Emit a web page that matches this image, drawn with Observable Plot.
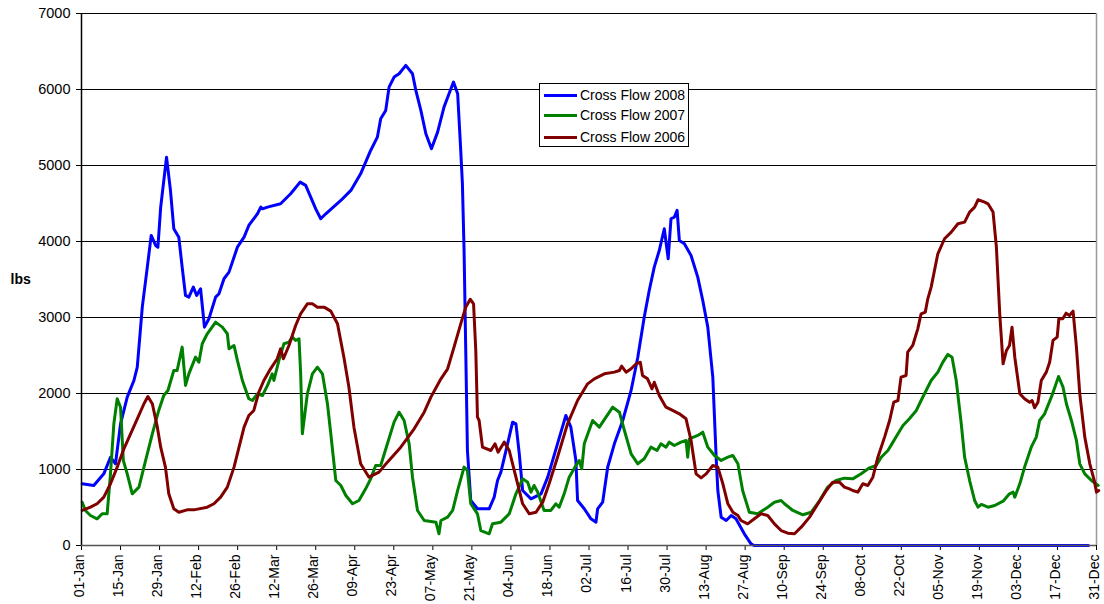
<!DOCTYPE html>
<html>
<head>
<meta charset="utf-8">
<script src="https://cdn.jsdelivr.net/npm/d3@7"></script>
<script src="https://cdn.jsdelivr.net/npm/@observablehq/plot@0.6"></script>
<style>
  html, body { margin: 0; padding: 0; background: #fff; }
  #wrap { position: relative; width: 1104px; height: 604px; font-family: "Liberation Sans", Arial, sans-serif; }
  #wrap svg { overflow: visible; }
  #legend { position: absolute; left: 539px; top: 83px; width: 148px; height: 62px; border: 1px solid #000; background: #fff; box-sizing: content-box; }
  .row { position: absolute; left: 4px; height: 20px; display: flex; align-items: center; font-size: 14px; color: #000; white-space: nowrap; }
  .sw { width: 33px; height: 3px; margin-right: 3px; }
</style>
</head>
<body>
<div id="wrap"><div id="legend"></div></div>
<script>
// Series names and colours
const seriesNames = ["Cross Flow 2008", "Cross Flow 2007", "Cross Flow 2006"];
const seriesColors = ["#0000ff", "#008000", "#800000"];

// Day of year (0 = 01-Jan) and values
const days2008 = [0.25,4.4,8.0,10.4,12.2,14.0,16.4,18.8,20.0,21.8,23.6,25.0,26.6,27.4,28.4,30.5,31.9,33.1,34.9,36.1,37.3,38.5,40.1,41.3,42.7,44.1,45.7,48.1,49.3,51.1,52.9,55.9,58.3,60.0,63.1,64.3,64.9,66.7,71.4,75.0,78.4,80.4,82.2,84.0,85.8,87.6,93.0,96.6,100.1,103.7,106.1,107.3,109.1,110.3,112.1,113.9,116.3,118.7,119.9,121.7,123.5,125.5,127.7,130.0,131.8,133.4,134.9,136.0,136.6,137.2,137.8,138.4,139.6,142.0,146.2,148.0,149.2,150.4,152.8,154.6,155.8,157.0,158.2,161.2,164.8,167.2,170.7,173.7,175.5,177.3,177.9,180.3,182.7,184.5,185.1,186.9,188.7,191.1,194.1,197.1,199.5,201.8,203.6,205.4,207.2,209.0,210.4,211.4,212.6,213.6,214.4,216.2,218.6,221.0,222.8,224.6,226.4,227.6,228.2,229.4,231.2,233.0,234.7,237.7,240.1,241.2,361.1];
const flow2008 = [812,790,943,1162,1075,1601,1952,2171,2346,3136,3662,4080,3948,3925,4452,5110,4672,4168,4057,3662,3290,3268,3400,3290,3378,2873,2983,3268,3312,3510,3597,3925,4057,4211,4365,4452,4430,4452,4496,4628,4781,4738,4584,4430,4299,4365,4540,4672,4891,5198,5373,5615,5725,6031,6163,6207,6317,6207,5988,5725,5418,5220,5439,5768,5944,6097,5944,5198,4760,3882,2566,1250,592,483,483,636,855,965,1338,1623,1601,1206,724,614,680,899,1338,1711,1557,1119,592,483,351,307,483,570,1030,1338,1645,2040,2478,3004,3356,3663,3882,4168,3773,4299,4321,4409,4014,3970,3816,3531,3224,2873,2215,1162,724,372,329,395,351,154,22,0,0];

const days2007 = [0.25,1.4,3.2,5.6,7.4,9.2,10.4,11.6,12.8,14.0,15.0,16.4,18.2,20.6,23.0,25.4,27.7,29.5,31.0,33.1,34.3,36.1,37.3,38.5,40.9,42.1,43.3,45.1,48.1,50.5,52.3,52.9,54.7,55.9,57.7,60.0,61.3,63.1,64.9,66.7,68.4,69.0,70.8,72.6,74.4,75.6,76.8,78.0,78.6,79.2,81.0,82.8,84.6,86.4,88.2,89.4,91.2,93.0,94.8,97.2,99.5,101.9,103.7,105.5,107.3,109.7,112.1,113.9,115.7,117.5,118.7,120.5,122.9,127.1,128.2,128.9,131.3,133.1,134.9,137.2,138.4,139.6,142.0,143.2,146.2,147.4,150.4,153.4,155.8,158.2,160.0,161.2,162.3,163.6,165.9,168.3,170.1,171.3,173.1,174.9,177.3,178.5,179.4,180.3,183.3,185.7,188.1,190.5,192.9,194.7,197.1,199.5,201.8,204.2,206.4,207.8,209.6,210.8,212.6,215.0,216.8,217.4,218.0,221.0,222.8,224.6,227.0,229.4,231.8,233.6,235.4,237.1,239.5,242.5,246.1,248.5,250.9,252.1,255.1,258.7,261.7,264.7,267.6,270.6,273.6,276.6,279.6,282.6,285.0,286.8,289.2,291.0,292.8,294.6,296.9,299.4,301.1,302.9,304.7,307.1,308.9,310.7,312.2,313.7,315.5,316.7,318.5,320.3,321.5,322.7,325.1,327.5,330.5,332.8,334.1,334.7,336.5,338.2,340.6,342.4,343.6,345.4,347.8,350.4,352.0,353.2,355.0,356.8,358.0,359.8,362.2,364.6];
const flow2007 = [570,461,395,351,417,417,943,1601,1931,1820,1119,943,680,768,1119,1470,1777,1974,2040,2303,2303,2610,2106,2259,2478,2412,2654,2786,2939,2873,2786,2588,2632,2435,2171,1931,1908,1996,1974,2106,2259,2171,2435,2654,2676,2742,2698,2720,2259,1470,1996,2259,2347,2259,1865,1470,855,790,658,549,592,746,877,1053,1053,1338,1623,1754,1645,1338,899,461,329,307,154,329,373,461,724,1031,987,549,417,197,154,285,307,417,680,877,833,702,790,702,461,461,549,504,680,899,1053,1119,1009,1338,1645,1557,1689,1820,1754,1513,1206,1075,1141,1294,1250,1338,1294,1360,1316,1360,1382,1162,1404,1448,1491,1294,1184,1119,1162,1184,1075,724,438,417,504,570,592,549,461,404,438,592,768,855,886,877,943,1022,1053,1162,1250,1360,1470,1579,1667,1777,1908,2040,2171,2281,2412,2514,2478,2171,1601,1162,855,592,504,540,504,526,583,680,702,636,812,1031,1294,1426,1645,1733,1952,2224,2083,1865,1645,1382,1075,943,855,790];

const days2006 = [0.25,3.2,5.6,8.0,10.4,12.8,15.2,17.6,20.0,22.4,23.8,25.4,27.2,28.4,30.1,31.3,33.1,34.9,37.9,40.3,45.1,47.5,49.9,52.3,54.7,56.5,58.3,60.0,61.8,63.6,65.4,67.8,70.2,71.4,72.4,74.4,76.8,78.6,81.0,82.8,84.6,87.0,89.4,91.8,94.1,95.9,97.7,100.1,103.1,106.7,109.7,114.5,119.3,122.9,125.3,128.9,131.3,133.6,136.0,137.8,139.4,140.6,141.4,142.0,142.6,143.8,146.8,148.3,149.4,151.6,153.4,155.8,158.2,160.6,163.0,165.4,167.7,170.7,174.3,177.9,181.5,183.9,187.5,191.1,192.9,193.7,195.3,197.1,198.9,200.4,201.2,203.0,204.6,205.4,207.2,209.6,212.0,214.4,216.8,218.6,220.4,222.2,224.0,226.4,228.2,230.0,231.8,233.6,235.4,236.5,238.9,241.3,243.7,246.1,248.5,250.9,253.3,255.7,258.1,261.1,264.1,267.1,269.4,271.8,273.6,275.4,276.6,278.4,280.2,282.0,283.8,285.6,288.0,289.8,291.3,292.8,293.9,295.7,296.3,298.1,299.9,301.1,302.6,303.5,304.7,307.1,309.5,311.9,314.3,316.7,318.5,320.3,321.5,323.9,325.1,326.9,328.1,329.3,330.5,331.7,332.8,333.7,334.7,336.5,338.2,340.0,340.9,341.8,343.0,344.2,346.0,347.2,348.4,349.9,350.5,351.9,353.1,354.3,355.6,356.8,358.0,359.8,361.6,363.2,364.0,364.8];
const flow2006 = [461,504,549,636,812,1031,1272,1470,1667,1865,1961,1865,1557,1294,1031,680,483,438,469,469,504,549,636,768,1031,1294,1557,1711,1777,2018,2171,2325,2457,2588,2457,2632,2895,3049,3180,3180,3136,3136,3084,2917,2478,2083,1557,1075,899,965,1097,1294,1535,1754,1952,2193,2325,2610,2917,3136,3240,3180,2566,1689,1645,1294,1250,1338,1228,1360,1250,899,549,417,438,570,812,1162,1601,1908,2127,2193,2259,2281,2303,2360,2281,2325,2391,2412,2237,2193,2062,2149,1974,1820,1777,1733,1667,1382,943,890,943,1053,1031,812,549,438,395,329,285,351,417,395,285,197,162,154,241,373,549,724,833,833,768,746,724,702,812,790,899,1162,1426,1645,1886,1908,2215,2237,2544,2632,2851,3049,3071,3246,3400,3838,4036,4123,4233,4255,4387,4452,4549,4518,4496,4387,3925,3049,2391,2566,2632,2873,2478,1996,1931,1886,1908,1812,1886,2171,2281,2412,2698,2742,2983,2983,3057,3027,3084,2610,1996,1426,1075,855,702,724];

// Axis ticks
const xTicks = d3.range(0, 365, 14);
const yTicks = d3.range(0, 7001, 1000);
const fmtDay = d => d3.utcFormat("%d-%b")(new Date(Date.UTC(2007, 0, 1 + d)));

const rows = [
  ...days2008.map((d, i) => ({series: seriesNames[0], day: d, value: flow2008[i]})),
  ...days2007.map((d, i) => ({series: seriesNames[1], day: d, value: flow2007[i]})),
  ...days2006.map((d, i) => ({series: seriesNames[2], day: d, value: flow2006[i]}))
];

const chart = Plot.plot({
  width: 1104,
  height: 604,
  marginLeft: 81,
  marginRight: 8,
  marginTop: 13,
  marginBottom: 59,
  style: {fontFamily: "'Liberation Sans', Arial, sans-serif", fontSize: "14px", color: "#000", background: "#fff", overflow: "visible"},
  x: {type: "linear", domain: [0, 364]},
  y: {domain: [0, 7000]},
  color: {domain: seriesNames, range: seriesColors},
  marks: [
    Plot.ruleY(yTicks.filter(v => v > 0), {stroke: "#000", strokeWidth: 1}),
    Plot.ruleX([364], {stroke: "#999", strokeWidth: 1.5}),
    Plot.axisY({ticks: yTicks, tickFormat: d => String(d), tickSize: 5, tickPadding: 6, fontSize: 14.5, label: null, stroke: "#000"}),
    Plot.axisX({ticks: xTicks, tickFormat: () => "", tickSize: 5, label: null, stroke: "#000"}),
    Plot.axisX({ticks: xTicks, tickFormat: fmtDay, tickRotate: -90, tickSize: 0, tickPadding: 9, fontSize: 14, label: null, dx: -2}),
    Plot.text(["lbs"], {frameAnchor: "left", dx: -71, fontWeight: "bold", fontSize: 14}),
    Plot.line(rows, {x: "day", y: "value", z: "series", stroke: "series", strokeWidth: 3, curve: "linear"}),
    Plot.ruleX([0], {stroke: "#000", strokeWidth: 1.5}),
    Plot.ruleY([0], {stroke: "#555", strokeWidth: 1.5})
  ]
});
document.getElementById("wrap").prepend(chart);

const legend = document.getElementById("legend");
const rowTops = [1, 21, 43];
seriesNames.forEach((name, i) => {
  const r = document.createElement("div");
  r.className = "row";
  r.style.top = rowTops[i] + "px";
  r.innerHTML = `<span class="sw" style="background:${seriesColors[i]}"></span><span>${name}</span>`;
  legend.appendChild(r);
});
</script>
</body>
</html>
